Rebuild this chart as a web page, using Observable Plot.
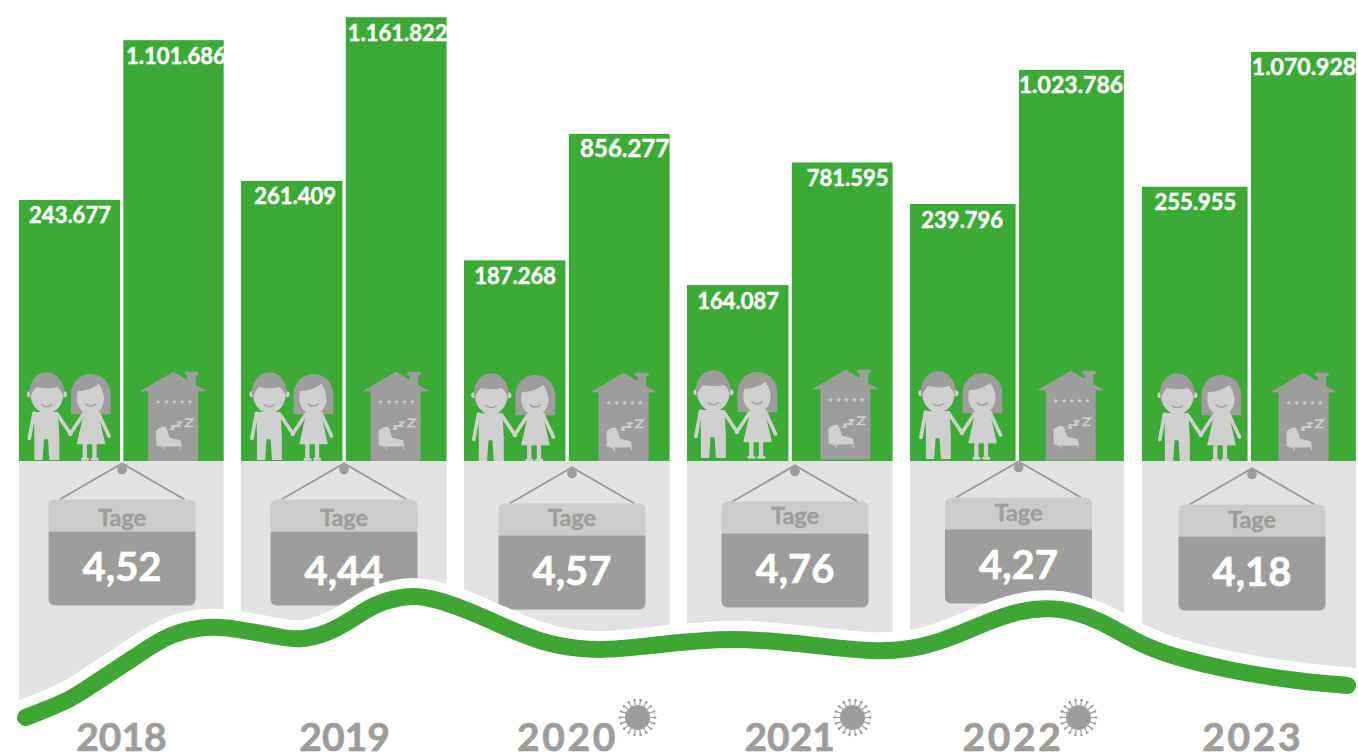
<!DOCTYPE html>
<html lang="de">
<head>
<meta charset="utf-8">
<title>Ankünfte, Übernachtungen und Aufenthaltsdauer 2018–2023</title>
<script src="https://cdn.jsdelivr.net/npm/d3@7"></script>
<script src="https://cdn.jsdelivr.net/npm/@observablehq/plot@0.6"></script>
<style>
html,body{margin:0;padding:0;background:#fff;overflow:hidden}
svg{display:block}
.wide-year text{letter-spacing:2.6px}
</style>
</head>
<body>
<div id="chart"></div>
<script>
// ---------- data ----------
const years = ["2018", "2019", "2020", "2021", "2022", "2023"];
const arrivals = [243677, 261409, 187268, 164087, 239796, 255955];
const overnights = [1101686, 1161822, 856277, 781595, 1023786, 1070928];
const stayDays = ["4,52", "4,44", "4,57", "4,76", "4,27", "4,18"];
const covidYears = ["2020", "2021", "2022"];
const signLabel = "Tage";

// decorative ribbon: position along the years, depth below the baseline
const ribbonPosition = [0.027,0.131,0.239,0.356,0.477,0.581,0.689,0.806,0.914,1.063,1.161,1.26,1.386,1.489,1.592,1.7,1.789,1.906,2.013,2.117,2.238,2.386,2.61,2.834,3.206,3.583,3.879,4.099,4.315,4.461,4.647,4.819,4.961,5.108,5.392,5.681,5.884];
const ribbonDepth = [256,247,237,219,202,186,172,166,165,171,175,179,172,159,143,136,134,140,149,159,171,184,190,184,175,184,192,184,162,149,145,159,179,194,210,220,224];

// ---------- layout (fractions of a year slot, pixel nudges) ----------
const leftBar = [0, 0.455], rightBar = [0.47, 0.922];
const arrivalsScale = 2.805;         // the two bar families use different value scales
const panelDepth = [256, 179, 189, 191, 189, 224];
const signAt = [0.462, 0.4596, 0.482, 0.482, 0.4655, 0.472];
const signDrop = [38, 38, 42, 40, 36, 43];
const signWordDrop = [19, 19, 15, 15, 16, 16];
const signNumberDrop = [69, 73, 69, 69, 69, 69];
const peopleAt = [0.2275, 0.229, 0.224, 0.22, 0.22, 0.25];
const houseAt = [0.696, 0.695, 0.717, 0.712, 0.694, 0.698];
const iconLift = [0, 0, -1, 2, 1, -1];
const yearAt = [0.459, 0.462, 0.462, 0.458, 0.442, 0.475];
const virusAt = {"2020": 0.776, "2021": 0.74, "2022": 0.724};
const nudgeLeft = [0, 3, 0, 0, -1, 0];
const nudgeRight = [2, 1, 5, 5, -1, 0];
const rightLabelSize = [22, 22, 24, 22, 23, 23];

// ---------- colours ----------
const green = "#3caa36", grey = "#9d9d9c", pale = "#e2e2e1", mid = "#cbcbca", light = "#cfcfce";

// ---------- pictograms ----------
const uri = (vb, w, h, body) => "data:image/svg+xml," + encodeURIComponent(
  `<svg xmlns="http://www.w3.org/2000/svg" viewBox="${vb}" width="${w}" height="${h}">${body}</svg>`);

const peopleIcon = uri("20 20 260 270", 260/3, 90, `
  <g fill="${light}" stroke="none">
    <circle cx="29" cy="90" r="9"/><circle cx="132" cy="90" r="9"/>
    <ellipse cx="80" cy="84" rx="52" ry="60" fill="${grey}"/>
    <path d="M33 92C38 84 42 74 50 68C70 73 92 73 112 68C120 74 125 84 129 92C128 125 105 147 81 147C55 147 34 125 33 92Z"/>
    <path d="M42 143H114L118 220V287H88L84 225H72L68 287H43V220Z"/>
    <path d="M42 146L28 222" stroke="${light}" stroke-width="11" stroke-linecap="round"/>
    <path d="M112 150L152 210" stroke="${light}" stroke-width="11" stroke-linecap="round"/>
    <path d="M153 150V90C153 55 180 29 212 29C245 29 272 55 272 90V150Z" fill="${grey}"/>
    <path d="M172 80C195 80 225 70 236 58C245 70 252 90 252 102C252 130 235 150 212 150C188 150 172 130 170 105Z"/>
    <path d="M192 143H234L256 240H170Z"/>
    <path d="M190 150L150 210" stroke="${light}" stroke-width="11" stroke-linecap="round"/>
    <path d="M236 148L267 215" stroke="${light}" stroke-width="11" stroke-linecap="round"/>
    <rect x="188" y="236" width="13" height="48"/><rect x="217" y="236" width="13" height="48"/>
    <rect x="183" y="280" width="24" height="9" rx="3"/><rect x="212" y="280" width="24" height="9" rx="3"/>
    <path d="M65 121C72 129 88 129 95 121" fill="none" stroke="${grey}" stroke-width="4" stroke-linecap="round"/>
    <path d="M197 119C205 127 219 127 227 119" fill="none" stroke="${grey}" stroke-width="4" stroke-linecap="round"/>
  </g>`);

const star = (cx, cy) => {
  const p = d3.range(10).map(i => {
    const r = i % 2 ? 3.2 : 8, a = -Math.PI / 2 + i * Math.PI / 5;
    return [cx + r * Math.cos(a), cy + r * Math.sin(a)].map(v => v.toFixed(1)).join(",");
  }).join(" ");
  return `<polygon points="${p}" fill="${mid}"/>`;
};
const houseIcon = uri("25 15 215 275", 215/3, 275/3, `
  <g fill="${grey}">
    <path d="M30 78L130 20L172 44V30H165V20H205V30H198V60L232 78H205V290H55V78Z"/>
    ${[85, 110, 133, 157, 180].map(x => star(x, 110)).join("")}
    <path d="M78 198C85 188 100 182 108 186C113 192 116 208 120 218L152 225L155 243L103 245L80 238Z" fill="${light}"/>
    <path d="M78 238L101 247L103 254M153 243V252" fill="none" stroke="${light}" stroke-width="3"/>
    <path d="M124 183H134L124 191H134M140 171H154L140 183H154M165 162H189L167 184H190" fill="none" stroke="${light}" stroke-width="5"/>
  </g>`);

const signIcon = uri("0 0 155 146", 155, 146, `
  <path d="M15 38L77.5 2L140 38" fill="none" stroke="${grey}" stroke-width="2"/>
  <circle cx="77.5" cy="8" r="4.8" fill="${grey}"/>
  <path d="M4 70V44a6 6 0 0 1 6-6H145a6 6 0 0 1 6 6V70Z" fill="${mid}"/>
  <path d="M4 70H151V138a6 6 0 0 1-6 6H10a6 6 0 0 1-6-6Z" fill="${grey}"/>`);

const virusIcon = uri("-20 -20 40 40", 40, 40, `
  <circle r="12.5" fill="${grey}"/>
  ${d3.range(18).map(i => {
    const a = i * 20 * Math.PI / 180, c = Math.cos(a), s = Math.sin(a);
    return `<line x1="${12 * c}" y1="${12 * s}" x2="${17 * c}" y2="${17 * s}" stroke="${grey}" stroke-width="1.2"/><circle cx="${17.6 * c}" cy="${17.6 * s}" r="1.3" fill="${grey}"/>`;
  }).join("")}`);

// ---------- tables ----------
const rows = years.map((year, i) => ({
  year, i,
  arrivals: arrivals[i], overnights: overnights[i], days: stayDays[i],
  panelDepth: panelDepth[i], signDrop: signDrop[i], wordDrop: signWordDrop[i], numberDrop: signNumberDrop[i],
  sign: i + signAt[i], people: i + peopleAt[i], house: i + houseAt[i], label: i + yearAt[i],
  lift: iconLift[i], nudgeLeft: nudgeLeft[i], nudgeRight: nudgeRight[i], rightSize: rightLabelSize[i]
}));
const ribbon = ribbonPosition.map((x, i) => ({x, depth: ribbonDepth[i]}));
const de = v => d3.format(",")(v).replace(/,/g, ".");
const below = d => -d;   // depth below the baseline, on the y scale's lower segment
const valuePerPixel = 1 / 0.000382;
const iconY = d => (45.5 + d.lift) * valuePerPixel;
const slot = 223;        // pixels per year slot, to turn a nudge into position units

const ribbonCurve = "basis";

// piecewise scale transforms: years with uneven slot widths; values above the baseline, depth below it
const slotScale = d3.scaleLinear().domain([0, 1, 2, 3, 4, 5, 6]).range([19, 241, 464, 687, 910, 1142, 1374]);
const valueScale = d3.scaleLinear().domain([461 * valuePerPixel, 0, -294]).range([0, 461, 755]);

const valueLabel = {dy: 23, fill: "#fff", stroke: "#fff", strokeWidth: 0.5, fontSize: 22, fontWeight: 700, textAnchor: "middle", lineAnchor: "bottom"};
const yearLabel = {x: "label", y: () => below(277.5), text: "year", fill: grey, stroke: grey, strokeWidth: 0.7, fontSize: 39, fontWeight: 700};

const chart = Plot.plot({
  width: 1358, height: 755,
  margin: 0,
  style: {fontFamily: "Lato, sans-serif", background: "#fff"},
  x: {axis: null, transform: slotScale, domain: [0, 1358], range: [0, 1358]},
  y: {axis: null, transform: valueScale, domain: [0, 755], range: [0, 755]},
  marks: [
    // bars
    Plot.rect(rows, {x1: d => d.i + leftBar[0], x2: d => d.i + leftBar[1], y1: () => 0, y2: d => d.arrivals * arrivalsScale, fill: green}),
    Plot.rect(rows, {x1: d => d.i + rightBar[0], x2: d => d.i + rightBar[1], y1: () => 0, y2: "overnights", fill: green}),
    // value labels
    Plot.text(rows, {x: d => d.i + (leftBar[0] + leftBar[1]) / 2 + d.nudgeLeft / slot, y: d => d.arrivals * arrivalsScale, text: d => de(d.arrivals), ...valueLabel}),
    ...[22, 23, 24].map(size => Plot.text(rows.filter(d => d.rightSize === size), {
      x: d => d.i + (rightBar[0] + rightBar[1]) / 2 + d.nudgeRight / slot, y: "overnights", text: d => de(d.overnights), ...valueLabel, fontSize: size})),
    // pictograms
    Plot.image(rows, {x: "people", y: iconY, src: peopleIcon, width: 260 / 3, height: 90}),
    Plot.image(rows, {x: "house", y: iconY, src: houseIcon, width: 215 / 3, height: 275 / 3}),
    // grey panels under the bars
    Plot.rect(rows, {x1: d => d.i + leftBar[0], x2: d => d.i + rightBar[1], y1: () => 0, y2: d => below(d.panelDepth), fill: pale}),
    // hanging signs
    Plot.image(rows, {x: "sign", y: d => below(d.signDrop + 35), src: signIcon, width: 155, height: 146}),
    Plot.text(rows, {x: "sign", y: d => below(d.signDrop + d.wordDrop), text: () => signLabel, fill: grey, stroke: grey, strokeWidth: 0.4, fontSize: 23.5, fontWeight: 700}),
    Plot.text(rows, {x: "sign", y: d => below(d.signDrop + d.numberDrop), text: "days", fill: "#fff", stroke: "#fff", strokeWidth: 0.6, fontSize: 40, fontWeight: 700}),
    // ribbon
    Plot.areaY(ribbon, {x: "x", y1: d => below(d.depth), y2: () => -294, fill: "#fff", curve: ribbonCurve}),
    Plot.line(ribbon, {x: "x", y: d => below(d.depth), stroke: "#fff", strokeWidth: 37, strokeLinecap: "round", curve: ribbonCurve}),
    Plot.line(ribbon, {x: "x", y: d => below(d.depth), stroke: "#3fa535", strokeWidth: 17, strokeLinecap: "round", curve: ribbonCurve}),
    // year labels and virus markers
    Plot.text(rows.filter(d => d.year.includes("1")), yearLabel),
    Plot.text(rows.filter(d => !d.year.includes("1")), {...yearLabel, className: "wide-year"}),
    Plot.image(rows.filter(d => covidYears.includes(d.year)), {x: d => d.i + virusAt[d.year], y: () => below(256), src: virusIcon, width: 40, height: 40})
  ]
});
document.getElementById("chart").append(chart);
</script>
</body>
</html>
